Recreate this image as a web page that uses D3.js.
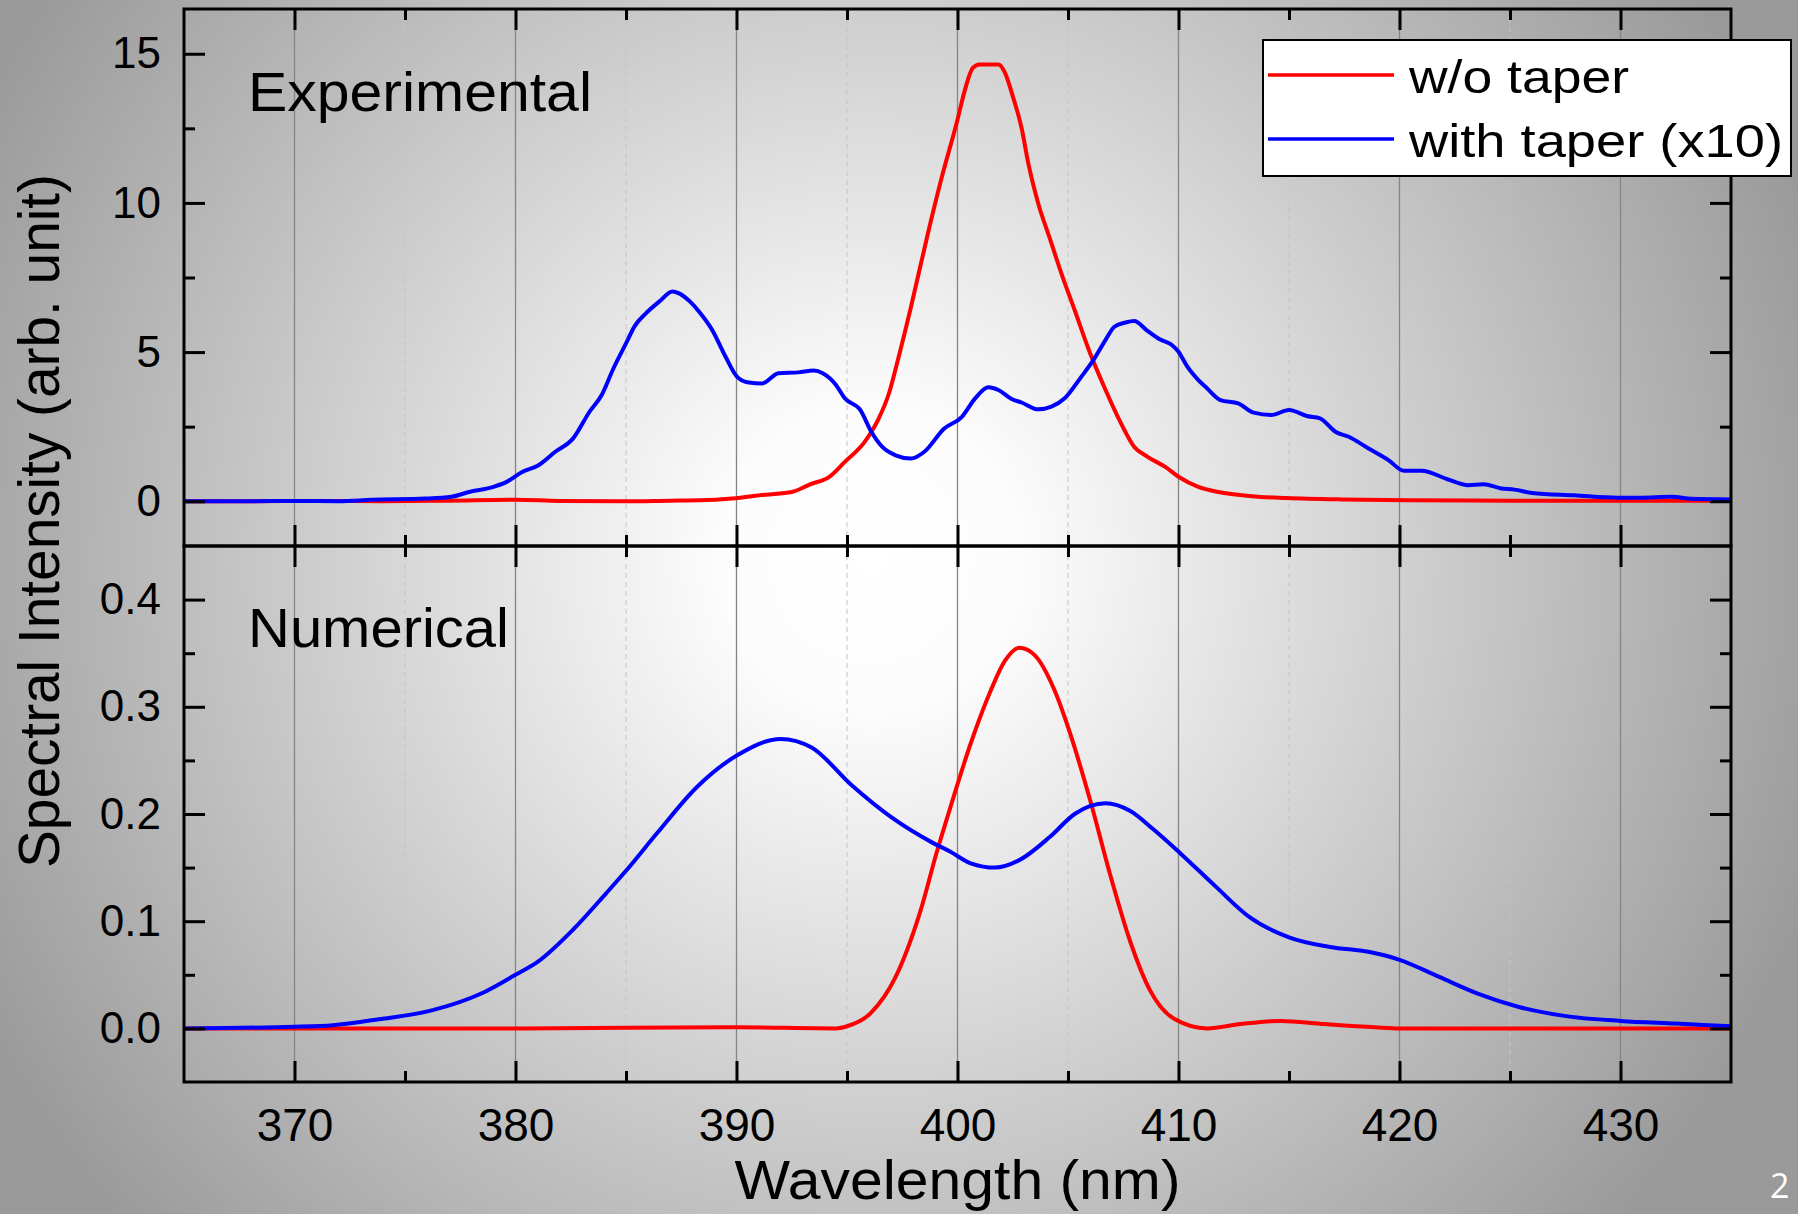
<!DOCTYPE html>
<meta charset="utf-8">
<script src="https://d3js.org/d3.v7.min.js"></script>
<style>
  body { margin:0; overflow:hidden; background:#a0a0a0; }
  svg { display:block; font-family:"Liberation Sans", Arial, sans-serif; }
</style>
<div id="chart"></div>
<script>

  // spectra: [wavelength (nm), intensity]
  const expWithoutTaper = [[365,0],[368,0],[371,0.01],[374,0],[377,0.02],[380,0.05],[382,0.01],[385,0],[387,0.02],
    [388.3,0.03],[389.8,0.09],[391.3,0.22],[392.5,0.31],[393.3,0.56],[394.2,0.82],[394.9,1.32],[395.8,1.99],
    [396.4,2.72],[396.9,3.62],[397.3,4.73],[397.9,6.53],[398.7,9.1],[399.3,10.89],[400,12.79],[400.3,13.69],
    [400.7,14.53],[401,14.64],[401.85,14.64],[402.15,14.36],[402.5,13.58],[402.9,12.51],[403.2,11.34],
    [403.65,9.99],[404.2,8.76],[404.7,7.64],[405.3,6.41],[406,4.96],[406.7,3.73],[407.4,2.61],[408,1.82],
    [408.6,1.49],[409.4,1.15],[410,0.82],[410.9,0.48],[411.8,0.31],[413.3,0.17],[414.9,0.11],[417.4,0.06],
    [420.4,0.03],[425,0.02],[430,0.02],[435,0.02]];

  const expWithTaper = [[365,0],[368,0],[370,0.01],[372,0],[373.5,0.05],[375.9,0.09],[377.1,0.15],[377.9,0.31],
    [379,0.48],[379.6,0.65],[380.3,0.98],[381,1.19],[381.8,1.66],[382.6,2.1],[383.35,3],[383.9,3.56],[384.4,4.4],
    [385,5.29],[385.4,5.88],[385.9,6.3],[386.5,6.69],[387.1,7.03],[387.4,6.97],[387.9,6.69],[388.3,6.36],
    [388.9,5.74],[389.5,4.85],[390.03,4.17],[390.56,3.98],[391.16,3.95],[391.9,4.29],[392.8,4.32],[393.5,4.38],
    [393.9,4.29],[394.5,3.9],[394.9,3.45],[395.6,3.06],[396.1,2.33],[396.6,1.82],[397.2,1.54],[397.9,1.43],
    [398.5,1.66],[399.4,2.44],[400.2,2.83],[400.8,3.45],[401.4,3.82],[401.85,3.73],[402.45,3.43],[402.9,3.31],
    [403.65,3.08],[404.25,3.17],[404.85,3.45],[405.6,4.17],[406.2,4.79],[406.7,5.41],[407.1,5.85],[407.6,5.99],
    [408,6.04],[408.55,5.74],[409.2,5.41],[409.7,5.24],[410,5.01],[410.4,4.51],[410.9,4.06],[411.3,3.78],
    [411.9,3.39],[412.7,3.28],[413.4,2.97],[414.2,2.89],[415,3.06],[415.85,2.85],[416.4,2.78],[417.1,2.33],
    [417.7,2.16],[418.6,1.77],[419.5,1.38],[420.2,1.02],[421,1.02],[422.2,0.73],[423.1,0.54],[423.8,0.57],
    [424.6,0.43],[425.2,0.39],[426,0.28],[427.9,0.2],[429.9,0.12],[430.9,0.12],[432.3,0.15],[433.2,0.08],[435,0.06]];

  const numWithoutTaper = [[365,0],[380,0],[390,0.001],[394.5,0],[395,0.002],[396.06,0.014],[397.2,0.048],
    [398.3,0.108],[399.07,0.165],[399.66,0.205],[400.6,0.266],[401.5,0.315],[402.15,0.343],[402.8,0.355],
    [403.5,0.348],[404.4,0.315],[405.1,0.275],[406,0.213],[406.9,0.144],[407.8,0.082],[408.7,0.036],
    [409.8,0.009],[411.3,0],[412.8,0.004],[414.6,0.007],[416.6,0.004],[418.9,0.001],[420,0],[435,0]];

  const numWithTaper = [[365,0],[370,0.0015],[371.75,0.003],[374,0.009],[376.25,0.017],[378.5,0.033],[380,0.05],
    [381,0.062],[382.6,0.092],[384.1,0.126],[385,0.147],[386.4,0.182],[388.2,0.225],[390.05,0.255],[392,0.27],
    [393.4,0.262],[395.2,0.227],[397,0.197],[398.8,0.174],[399.66,0.165],[400.6,0.154],[401.7,0.15],[402.8,0.157],
    [404.2,0.179],[405.3,0.2],[406.7,0.21],[407.8,0.203],[408.9,0.185],[410.1,0.163],[411.7,0.132],[413.2,0.104],
    [415,0.085],[416.85,0.076],[418.7,0.071],[420,0.064],[421.8,0.048],[423.6,0.032],[425.4,0.02],[427.7,0.011],
    [430,0.007],[432.5,0.0045],[435,0.002]];

  const xTicks = [370, 380, 390, 400, 410, 420, 430];
  const expYTicks = [0, 5, 10, 15];
  const numYTicks = [0, 0.1, 0.2, 0.3, 0.4];
  const panelLabels = ["Experimental", "Numerical"];
  const legendLabels = ["w/o taper", "with taper (x10)"];
  const seriesColors = ["#ff0000", "#0000ff"];

  var svgWidth = 1798, svgHeight = 1214;
  var plotLeft = 184, plotRight = 1731;

  const svg = d3.select("#chart")
    .append("svg")
    .attr("width", svgWidth)
    .attr("height", svgHeight);

  // slide background: radial grey gradient
  const grad = svg.append("defs").append("radialGradient")
    .attr("id", "bg")
    .attr("gradientUnits", "userSpaceOnUse")
    .attr("cx", 870).attr("cy", 560).attr("r", 1000);
  grad.append("stop").attr("offset", 0).attr("stop-color", "#ffffff");
  grad.append("stop").attr("offset", 0.15).attr("stop-color", "#fcfcfc");
  grad.append("stop").attr("offset", 1).attr("stop-color", "#9a9a9a");

  svg.append("rect")
    .attr("width", svgWidth).attr("height", svgHeight)
    .attr("fill", "url(#bg)");

  const x = d3.scaleLinear().domain([365, 435]).range([plotLeft, plotRight]);
  const xMinor = d3.range(375, 435, 10);

  const panels = [
    { top: 9, bottom: 546, domain: [-1.5, 16.5], ticks: expYTicks, minor: d3.range(2.5, 16, 5),
      fmt: d3.format("d"), series: [expWithoutTaper, expWithTaper], label: panelLabels[0], labelY: 111 },
    { top: 546, bottom: 1082, domain: [-0.05, 0.45], ticks: numYTicks, minor: d3.range(0.05, 0.45, 0.1),
      fmt: d3.format(".1f"), series: [numWithoutTaper, numWithTaper], label: panelLabels[1], labelY: 647 }
  ];

  panels.forEach(function (p, i) {
    const y = d3.scaleLinear().domain(p.domain).range([p.bottom, p.top]);
    const g = svg.append("g");

    // vertical grid
    g.selectAll(".gmaj").data(xTicks).join("line")
      .attr("x1", d => x(d)).attr("x2", d => x(d))
      .attr("y1", p.top).attr("y2", p.bottom)
      .attr("stroke", "#858585").attr("stroke-width", 1.3);
    g.selectAll(".gmin").data(xMinor).join("line")
      .attr("x1", d => x(d)).attr("x2", d => x(d))
      .attr("y1", p.top).attr("y2", p.bottom)
      .attr("stroke", "#c4c4c4").attr("stroke-width", 1)
      .attr("stroke-dasharray", "5,4");

    // curves
    const line = d3.line()
      .x(d => x(d[0]))
      .y(d => y(d[1]))
      .curve(d3.curveMonotoneX);

    p.series.forEach(function (s, k) {
      g.append("path")
        .datum(s)
        .attr("d", line)
        .attr("fill", "none")
        .attr("stroke", seriesColors[k])
        .attr("stroke-width", 4)
        .attr("stroke-linejoin", "round");
    });

    // axes, ticks pointing inward
    function styleAxis(a) {
      a.select(".domain").remove();
      a.selectAll(".tick line").attr("stroke", "#000").attr("stroke-width", 3);
      a.selectAll("text").attr("font-family", "Liberation Sans, Arial, sans-serif").attr("fill", "#000");
    }

    g.append("g").attr("transform", `translate(${plotLeft},0)`)
      .call(d3.axisLeft(y).tickValues(p.ticks).tickSize(-21).tickPadding(23).tickFormat(p.fmt))
      .call(styleAxis)
      .selectAll("text").attr("font-size", 44);
    g.append("g").attr("transform", `translate(${plotLeft},0)`)
      .call(d3.axisLeft(y).tickValues(p.minor).tickSize(-11).tickFormat(""))
      .call(styleAxis);
    g.append("g").attr("transform", `translate(${plotRight},0)`)
      .call(d3.axisRight(y).tickValues(p.ticks).tickSize(-21).tickFormat(""))
      .call(styleAxis);
    g.append("g").attr("transform", `translate(${plotRight},0)`)
      .call(d3.axisRight(y).tickValues(p.minor).tickSize(-11).tickFormat(""))
      .call(styleAxis);

    g.append("g").attr("transform", `translate(0,${p.top})`)
      .call(d3.axisTop(x).tickValues(xTicks).tickSize(-21).tickFormat(""))
      .call(styleAxis);
    g.append("g").attr("transform", `translate(0,${p.top})`)
      .call(d3.axisTop(x).tickValues(xMinor).tickSize(-11).tickFormat(""))
      .call(styleAxis);
    g.append("g").attr("transform", `translate(0,${p.bottom})`)
      .call(d3.axisBottom(x).tickValues(xTicks).tickSize(-21).tickPadding(26)
        .tickFormat(i === 1 ? d3.format("d") : ""))
      .call(styleAxis)
      .selectAll("text").attr("font-size", 46);
    g.append("g").attr("transform", `translate(0,${p.bottom})`)
      .call(d3.axisBottom(x).tickValues(xMinor).tickSize(-11).tickFormat(""))
      .call(styleAxis);

    // frame
    g.append("rect")
      .attr("x", plotLeft).attr("y", p.top)
      .attr("width", plotRight - plotLeft).attr("height", p.bottom - p.top)
      .attr("fill", "none").attr("stroke", "#000").attr("stroke-width", 3);

    g.append("text")
      .attr("x", 248).attr("y", p.labelY)
      .attr("font-size", 56)
      .attr("textLength", i === 0 ? 344 : 261)
      .attr("lengthAdjust", "spacingAndGlyphs")
      .text(p.label);
  });

  // axis titles
  svg.append("text")
    .attr("x", (plotLeft + plotRight) / 2).attr("y", 1199)
    .attr("text-anchor", "middle")
    .attr("font-size", 56)
    .attr("textLength", 446).attr("lengthAdjust", "spacingAndGlyphs")
    .text("Wavelength (nm)");

  svg.append("text")
    .attr("transform", "translate(59,521) rotate(-90)")
    .attr("text-anchor", "middle")
    .attr("font-size", 57)
    .attr("textLength", 694).attr("lengthAdjust", "spacingAndGlyphs")
    .text("Spectral Intensity (arb. unit)");

  // legend
  const legend = svg.append("g");
  legend.append("rect")
    .attr("x", 1263).attr("y", 40).attr("width", 528).attr("height", 136)
    .attr("fill", "#fff").attr("stroke", "#000").attr("stroke-width", 2);
  legendLabels.forEach(function (t, k) {
    const ly = 75 + k * 64;
    legend.append("line")
      .attr("x1", 1268).attr("x2", 1394).attr("y1", ly).attr("y2", ly)
      .attr("stroke", seriesColors[k]).attr("stroke-width", 3.6);
    legend.append("text")
      .attr("x", 1409).attr("y", ly + 18)
      .attr("font-size", 46)
      .attr("textLength", k === 0 ? 220 : 374).attr("lengthAdjust", "spacingAndGlyphs")
      .text(t);
  });

  // slide number in the corner
  svg.append("text")
    .attr("x", 1770).attr("y", 1198)
    .attr("font-family", "Open Sans, DejaVu Sans, sans-serif")
    .attr("font-size", 34)
    .attr("fill", "#fff")
    .text("2");

</script>
